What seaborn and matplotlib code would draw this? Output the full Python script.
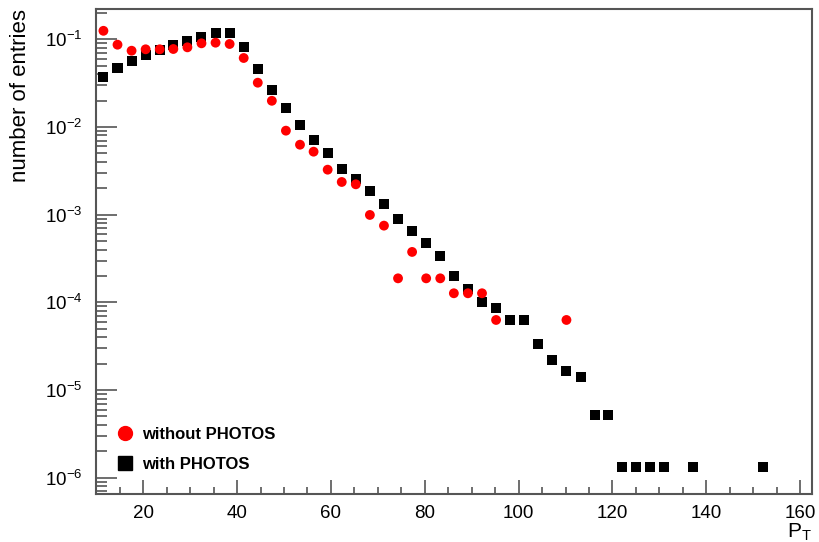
import numpy as np
import pandas as pd
import matplotlib
matplotlib.use("Agg")
import matplotlib.pyplot as plt
import seaborn as sns
from matplotlib.ticker import LogLocator, MultipleLocator, NullFormatter
from matplotlib.lines import Line2D

# ---- data ----
pt_with = [11.5, 14.5, 17.5, 20.5, 23.5, 26.4, 29.4, 32.4, 35.4, 38.4, 41.4, 44.4, 47.4,
           50.4, 53.4, 56.3, 59.3, 62.3, 65.3, 68.3, 71.3, 74.3, 77.3, 80.3, 83.3, 86.2,
           89.2, 92.2, 95.2, 98.2, 101.2, 104.2, 107.2, 110.2, 113.2, 116.2, 119.1, 122.1,
           125.1, 128.1, 131.1, 137.1, 152.0]
val_with = [0.0369, 0.0471, 0.0570, 0.0667, 0.0755, 0.0868, 0.0964, 0.107, 0.117, 0.117,
            0.0824, 0.0458, 0.0264, 0.0163, 0.01045, 0.00711, 0.00501, 0.00335, 0.00254,
            0.00185, 0.001315, 0.0009, 0.000657, 0.00048, 0.00034, 0.0002, 0.000142, 0.0001,
            8.6e-5, 6.3e-5, 6.3e-5, 3.36e-5, 2.2e-5, 1.66e-5, 1.42e-5, 5.25e-6, 5.25e-6,
            1.32e-6, 1.32e-6, 1.32e-6, 1.32e-6, 1.32e-6, 1.32e-6]

pt_without = [11.5, 14.5, 17.5, 20.5, 23.5, 26.4, 29.4, 32.4, 35.4, 38.4, 41.4, 44.4, 47.4,
              50.4, 53.4, 56.3, 59.3, 62.3, 65.3, 68.3, 71.3, 74.3, 77.3, 80.3, 83.3, 86.2,
              89.2, 92.2, 95.2, 110.2]
val_without = [0.125, 0.0868, 0.0741, 0.0769, 0.0769, 0.0775, 0.081, 0.090, 0.0915, 0.0884,
               0.0612, 0.032, 0.0199, 0.00908, 0.00628, 0.00523, 0.00326, 0.00236, 0.00222,
               0.000993, 0.00075, 0.000188, 0.000376, 0.000188, 0.000188, 0.000127, 0.000127,
               0.000127, 6.3e-5, 6.3e-5]

labels = ["without PHOTOS", "with PHOTOS"]

sns.set_style("white")
plt.rcParams['font.family'] = ['Liberation Sans', 'DejaVu Sans']
plt.rcParams['mathtext.fontset'] = 'custom'
plt.rcParams['mathtext.rm'] = 'Liberation Sans'
plt.rcParams['mathtext.it'] = 'Liberation Sans:italic'
plt.rcParams['text.color'] = 'black'
plt.rcParams['axes.labelcolor'] = 'black'
plt.rcParams['xtick.labelcolor'] = 'black'
plt.rcParams['ytick.labelcolor'] = 'black'

fig = plt.figure(figsize=(8.19, 5.42), dpi=100)
ax = fig.add_axes([0.1177, 0.0886, 0.8735, 0.8948])

df_w = pd.DataFrame({"pt": pt_with, "n": val_with})
df_wo = pd.DataFrame({"pt": pt_without, "n": val_without})

sns.scatterplot(data=df_w, x="pt", y="n", ax=ax, marker="s", s=52, color="black",
                edgecolor="none", linewidth=0, zorder=3)
sns.scatterplot(data=df_wo, x="pt", y="n", ax=ax, marker="o", s=50, color="#ff0000",
                edgecolor="none", linewidth=0, zorder=4)

ax.set_yscale("log")
ax.set_xlim(10, 162.5)
ax.set_ylim(6.53e-7, 0.2216)

frame_col = "#555555"
for sp in ax.spines.values():
    sp.set_color(frame_col)
    sp.set_linewidth(1.5)

ax.xaxis.set_major_locator(MultipleLocator(20))
ax.xaxis.set_minor_locator(MultipleLocator(5))
ax.yaxis.set_major_locator(LogLocator(base=10, numticks=20))
ax.yaxis.set_minor_locator(LogLocator(base=10, subs=np.arange(2, 10), numticks=20))
ax.yaxis.set_minor_formatter(NullFormatter())

ax.tick_params(axis="x", which="major", direction="in", length=10, width=1.2,
               color=frame_col, labelcolor="black", labelsize=13.5, pad=8, bottom=True, top=False)
ax.tick_params(axis="x", which="minor", direction="in", length=5, width=1.2,
               color=frame_col, bottom=True, top=False)
ax.tick_params(axis="y", which="major", direction="in", length=15, width=1.2,
               color=frame_col, labelcolor="black", labelsize=13.5, pad=10, left=True, right=False)
ax.tick_params(axis="y", which="minor", direction="in", length=8, width=1.2,
               color=frame_col, left=True, right=False)

ax.set_xlabel(r"P$_\mathrm{T}$", fontsize=15, loc="right", labelpad=0, color="black")
ax.set_ylabel("number of entries", fontsize=16, loc="top", labelpad=10, color="black")

handles = [Line2D([], [], marker="o", linestyle="none", color="#ff0000", markersize=10),
           Line2D([], [], marker="s", linestyle="none", color="black", markersize=10)]
leg = ax.legend(handles, labels, loc="lower left", bbox_to_anchor=(0.005, 0.014),
                frameon=False, prop={"weight": "bold", "size": 12},
                handletextpad=0.4, labelspacing=0.93, handlelength=1.2)
for t in leg.get_texts():
    t.set_color("black")

fig.savefig("out.png", dpi=100)
